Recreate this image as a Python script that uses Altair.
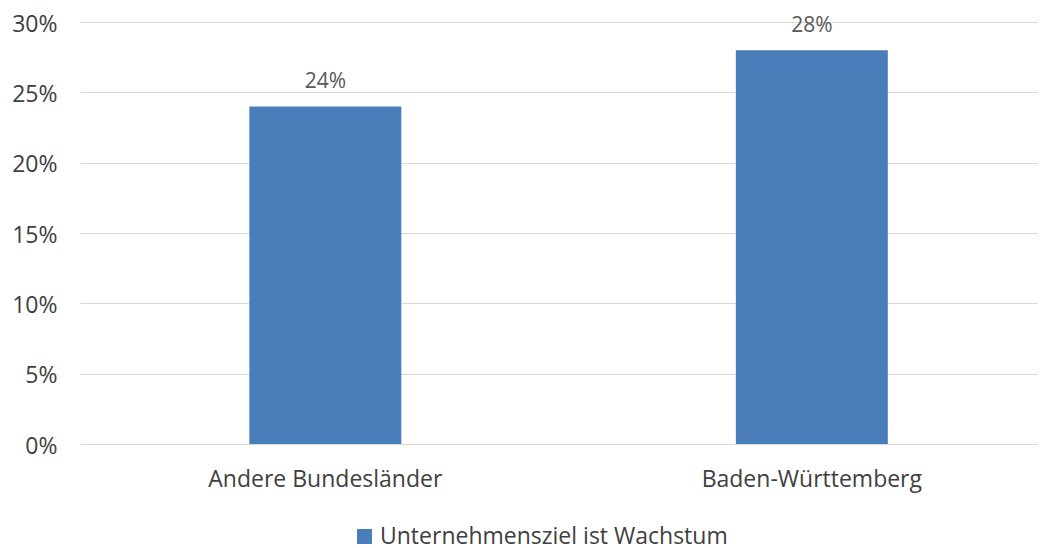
import altair as alt
import pandas as pd

categories = ["Andere Bundesländer", "Baden-Württemberg"]
values = [0.24, 0.28]
series = "Unternehmensziel ist Wachstum"
y_ticks = [0, 0.05, 0.10, 0.15, 0.20, 0.25, 0.30]

df = pd.DataFrame({"Kategorie": categories, "Wert": values, "Serie": [series] * len(categories)})

FONT = "Open Sans"

base = alt.Chart(df).encode(
    x=alt.X(
        "Kategorie:N",
        sort=categories,
        title=None,
        scale=alt.Scale(paddingInner=0.6876, paddingOuter=0.3284, align=0.53),
        axis=alt.Axis(
            labelAngle=0, ticks=False, tickSize=0, domain=False, grid=False,
            labelFont=FONT, labelFontSize=23, labelColor="#404040", labelLimit=0,
            labelBaseline="alphabetic", labelPadding=42,
        ),
    ),
    y=alt.Y(
        "Wert:Q",
        title=None,
        scale=alt.Scale(domain=[0, 0.30], nice=False),
        axis=alt.Axis(
            values=y_ticks, format=".0%", ticks=False, tickSize=0, domain=False,
            grid=True, gridColor="#D9D9D9", gridWidth=1,
            labelFont=FONT, labelFontSize=23, labelColor="#404040",
            labelPadding=23, labelOffset=2,
        ),
    ),
)

bars = base.mark_bar(color="#4A7EBB").encode(
    color=alt.Color(
        "Serie:N",
        scale=alt.Scale(range=["#4A7EBB"]),
        legend=alt.Legend(
            title=None, orient="none", legendX=273, legendY=503,
            symbolType="square", symbolSize=225, symbolStrokeWidth=0,
            labelFont=FONT, labelFontSize=23, labelColor="#404040", labelLimit=0,
            padding=0, labelOffset=4,
        ),
    )
)

labels = base.mark_text(
    baseline="alphabetic", dy=-18, font=FONT, fontSize=21, color="#595959"
).encode(text=alt.Text("Wert:Q", format=".0%"))

chart = (
    alt.layer(bars, labels)
    .properties(
        width=958,
        height=422,
        background="white",
        autosize=alt.AutoSizeParams(type="none"),
        padding={"left": 72, "top": 14, "right": 0, "bottom": 104},
    )
    .configure_view(stroke=None, strokeWidth=0)
)

chart.save("out.html", embed_options={"renderer": "svg", "actions": False})
